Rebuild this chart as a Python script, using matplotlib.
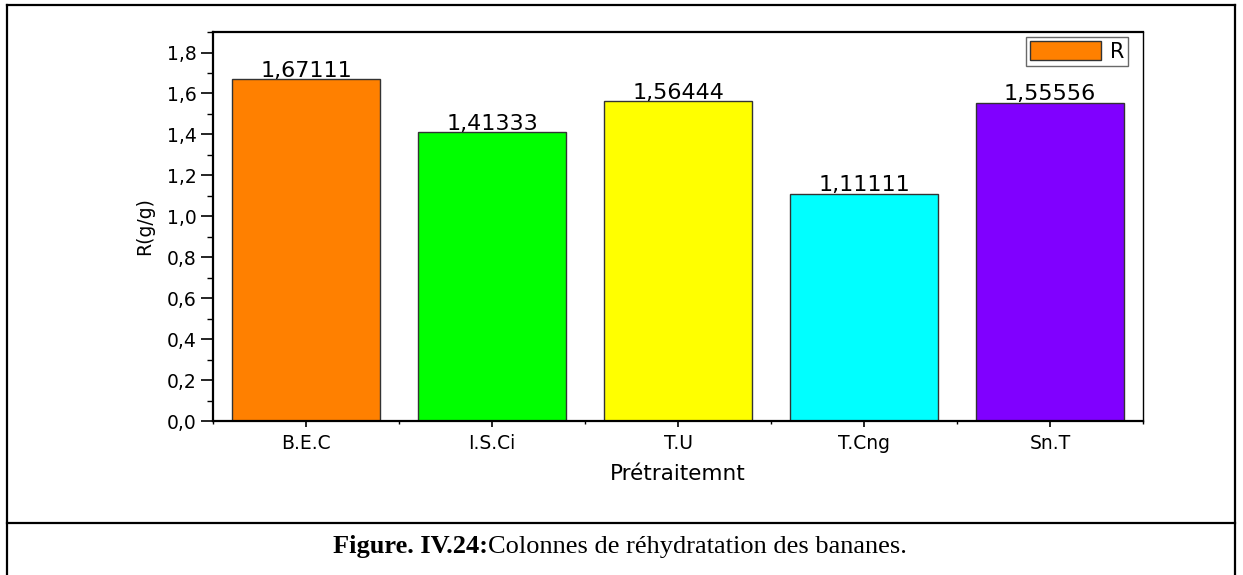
import matplotlib
matplotlib.use('Agg')
import matplotlib.pyplot as plt
from matplotlib.lines import Line2D
from matplotlib.ticker import MultipleLocator, FixedLocator

# données de réhydratation
pretraitements = ['B.E.C', 'I.S.Ci', 'T.U', 'T.Cng', 'Sn.T']
valeurs_R = [1.67111, 1.41333, 1.56444, 1.11111, 1.55556]
etiquettes = ['1,67111', '1,41333', '1,56444', '1,11111', '1,55556']
couleurs = ['#FF8000', '#00FF00', '#FFFF00', '#00FFFF', '#8000FF']
y_ticks = [0.0, 0.2, 0.4, 0.6, 0.8, 1.0, 1.2, 1.4, 1.6, 1.8]
y_ticklabels = ['0,0', '0,2', '0,4', '0,6', '0,8', '1,0', '1,2', '1,4', '1,6', '1,8']

plt.rcParams['font.family'] = ['DejaVu Sans']

fig = plt.figure(figsize=(12.43, 5.75), dpi=100)
ax = fig.add_axes([0.1714, 0.2678, 0.7482, 0.6765])

x = list(range(len(pretraitements)))
barres = ax.bar(x, valeurs_R, width=0.8, color=couleurs, edgecolor='#333333',
                linewidth=1.0, label='R')

# valeurs au-dessus des colonnes
for xi, v, t in zip(x, valeurs_R, etiquettes):
    ax.annotate(t, (xi, v), xytext=(0, 1.5), textcoords='offset points',
                ha='center', va='baseline', fontsize=16, color='black')

ax.set_xlim(-0.5, 4.5)
ax.set_ylim(0, 1.9)
ax.set_xticks(x)
ax.set_xticklabels(pretraitements, fontsize=13.5)
ax.set_yticks(y_ticks)
ax.set_yticklabels(y_ticklabels, fontsize=13.5)
ax.xaxis.set_minor_locator(FixedLocator([-0.5, 0.5, 1.5, 2.5, 3.5, 4.5]))
ax.yaxis.set_minor_locator(MultipleLocator(0.1))

ax.tick_params(axis='y', which='major', direction='out', length=9, width=1.2, pad=3)
ax.tick_params(axis='y', which='minor', direction='out', length=4.5, width=1.0)
ax.tick_params(axis='x', which='major', direction='out', length=4.5, width=1.2, pad=5)
ax.tick_params(axis='x', which='minor', direction='out', length=2.5, width=1.0)

for s in ['left', 'bottom', 'top']:
    ax.spines[s].set_linewidth(1.6)
ax.spines['right'].set_linewidth(1.0)

ax.set_xlabel('Prétraitemnt', fontsize=15.5, labelpad=8)
ax.set_ylabel('R(g/g)', fontsize=13.5, labelpad=9)

leg = ax.legend(loc='upper right', bbox_to_anchor=(0.984, 0.987), borderaxespad=0,
                fontsize=15, handlelength=3.4, handleheight=1.0, handletextpad=0.4,
                borderpad=0.2, fancybox=False, frameon=True)
leg.get_frame().set_edgecolor('#444444')
leg.get_frame().set_linewidth(1.0)

# cadre du tableau autour de la figure
lw = 1.6
fig.add_artist(Line2D([7 / 1243, 7 / 1243], [0, 1 - 5 / 575], transform=fig.transFigure,
                      color='black', lw=lw))
fig.add_artist(Line2D([1235 / 1243, 1235 / 1243], [0, 1 - 5 / 575], transform=fig.transFigure,
                      color='black', lw=lw))
fig.add_artist(Line2D([7 / 1243, 1235 / 1243], [1 - 5 / 575, 1 - 5 / 575],
                      transform=fig.transFigure, color='black', lw=lw))
fig.add_artist(Line2D([7 / 1243, 1235 / 1243], [1 - 523 / 575, 1 - 523 / 575],
                      transform=fig.transFigure, color='black', lw=lw))

# légende de la figure : partie en gras + texte normal, centrés ensemble
y_cap = 1 - 553 / 575
t1 = fig.text(0, y_cap, 'Figure. IV.24:', fontsize=19, fontweight='bold',
              family='Liberation Serif', ha='left', va='baseline')
t2 = fig.text(0, y_cap, 'Colonnes de réhydratation des bananes.', fontsize=19,
              family='Liberation Serif', ha='left', va='baseline')
rend = fig.canvas.get_renderer()
w1 = t1.get_window_extent(rend).width
w2 = t2.get_window_extent(rend).width
x0 = (620 - (w1 + w2) / 2) / 1243
t1.set_x(x0)
t2.set_x(x0 + w1 / 1243)

fig.savefig('out.png', dpi=100)
